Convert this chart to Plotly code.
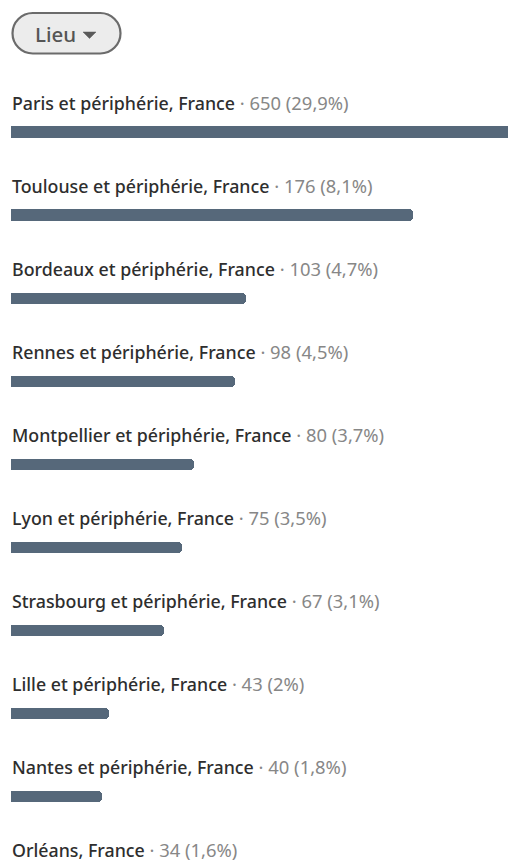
import plotly.graph_objects as go

W, H = 508, 866

cities = [
    "Paris et périphérie, France",
    "Toulouse et périphérie, France",
    "Bordeaux et périphérie, France",
    "Rennes et périphérie, France",
    "Montpellier et périphérie, France",
    "Lyon et périphérie, France",
    "Strasbourg et périphérie, France",
    "Lille et périphérie, France",
    "Nantes et périphérie, France",
    "Orléans, France",
]
counts = [650, 176, 103, 98, 80, 75, 67, 43, 40, 34]
percents = [29.9, 8.1, 4.7, 4.5, 3.7, 3.5, 3.1, 2, 1.8, 1.6]

BAR_COLOR = "#56687a"
LABEL_COLOR = "#2e2e2e"
COUNT_COLOR = "#878787"
FONT = "Noto Sans"

idx = list(range(len(cities)))

ML = 11  # left margin px

fig = go.Figure()
fig.add_trace(go.Bar(
    x=counts, y=idx, orientation="h",
    marker=dict(color=BAR_COLOR, cornerradius=4, line=dict(width=0)),
    width=0.135,
    hoverinfo="skip",
))

ROW = 83.1          # px per row
Y0 = 132            # px centre of first bar
top_val = -Y0 / ROW
bot_val = (H - Y0) / ROW
LABEL_OFF = 30 / ROW

def fmt_pct(p):
    return f"{p:g}".replace(".", ",") + "%"

annotations = []
for i, (c, n, p) in enumerate(zip(cities, counts, percents)):
    annotations.append(dict(
        x=0, y=i - LABEL_OFF, xref="x", yref="y",
        xanchor="left", yanchor="middle", showarrow=False,
        text=(f"{c}<span style='color:{COUNT_COLOR};font-weight:400;font-size:18.4px'>"
              f" · {n} ({fmt_pct(p)})</span>"),
        font=dict(family=FONT, size=17.8, color=LABEL_COLOR, weight=500),
        xshift=-1,
    ))

def px(p):
    return (p - ML) / (W - ML)

def py(p):
    return 1 - p / H

# pill button
L, R, T, B = 12.5, 120.5, 13, 53.5
r = (B - T) / 2
k = 0.5523 * r
path = (
    f"M {px(L + r)},{py(T)} L {px(R - r)},{py(T)} "
    f"C {px(R - r + k)},{py(T)} {px(R)},{py(T + r - k)} {px(R)},{py(T + r)} "
    f"C {px(R)},{py(T + r + k)} {px(R - r + k)},{py(B)} {px(R - r)},{py(B)} "
    f"L {px(L + r)},{py(B)} "
    f"C {px(L + r - k)},{py(B)} {px(L)},{py(T + r + k)} {px(L)},{py(T + r)} "
    f"C {px(L)},{py(T + r - k)} {px(L + r - k)},{py(T)} {px(L + r)},{py(T)} Z"
)
caret = f"M {px(83)},{py(32)} L {px(96)},{py(32)} L {px(89.5)},{py(38.5)} Z"
shapes = [
    dict(type="path", path=path, xref="paper", yref="paper",
         fillcolor="#ececec", line=dict(color="#6b6b6b", width=2.2)),
    dict(type="path", path=caret, xref="paper", yref="paper",
         fillcolor="#5a5a5a", line=dict(color="#5a5a5a", width=0.5)),
]

annotations.append(dict(
    x=px(32.5), y=py(33.5), xref="paper", yref="paper",
    xanchor="left", yanchor="middle", showarrow=False,
    text="Lieu",
    font=dict(family=FONT, size=20.5, color="#555555", weight=500),
))

XMAX = (W - ML) / 2.285

fig.update_layout(
    width=W, height=H,
    margin=dict(l=ML, r=0, t=0, b=0),
    paper_bgcolor="white", plot_bgcolor="white",
    showlegend=False,
    xaxis=dict(range=[0, XMAX], visible=False, fixedrange=True),
    yaxis=dict(range=[bot_val, top_val], visible=False, fixedrange=True),
    annotations=annotations,
    shapes=shapes,
    bargap=0,
)

fig.write_html(
    "out.html",
    config={"displayModeBar": False},
    post_script="document.body.style.margin='0';document.body.style.overflow='hidden';",
)
